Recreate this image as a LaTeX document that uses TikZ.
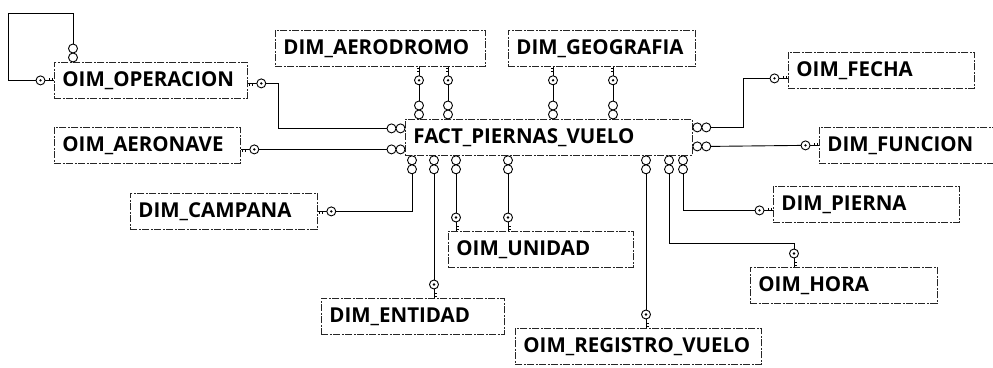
\documentclass[tikz,border=0pt]{standalone}
\usepackage{fontspec}
\setmainfont{Open Sans}
\usetikzlibrary{calc}
\begin{document}
\begin{tikzpicture}[x=1pt,y=-1pt,
  tbl/.style={draw=black!85, line width=0.8pt,
    dash pattern=on 7pt off 1.5pt on 2pt off 1.5pt,
    anchor=north west, minimum height=36pt, inner xsep=8pt, inner ysep=0pt,
    align=left, font=\fontsize{20.5}{24}\selectfont\bfseries},
  conn/.style={draw=black, line width=0.9pt},
  pkey/.pic={
    \draw[line width=0.9pt] (0,0) -- (9,0);
    \draw[line width=0.8pt] (2,0) -- (2,2.5) (5,0) -- (5,2.5);
    \draw[line width=0.9pt, fill=white] (13.5,0) circle[radius=4.5pt];
    \fill (13.5,0) circle[radius=1.3pt];
  },
  many/.pic={
    \draw[line width=0.9pt] (4.5,0) circle[radius=4.5pt] (13.5,0) circle[radius=4.5pt];
  }]
\useasboundingbox (0,0) rectangle (993,367);
\clip (0,0) rectangle (993,367);

% tables
\node[tbl, text width=177pt] (oper) at (54,62) {OIM\_OPERACION};
\node[tbl, text width=170pt] (aeronave) at (54,127) {OIM\_AERONAVE};
\node[tbl, text width=194pt] (aerodromo) at (275,30) {DIM\_AERODROMO};
\node[tbl, text width=171pt] (geografia) at (508,30) {DIM\_GEOGRAFIA};
\node[tbl, text width=271pt] (fact) at (405,119) {FACT\_PIERNAS\_VUELO};
\node[tbl, text width=170pt] (fecha) at (788,52) {OIM\_FECHA};
\node[tbl, text width=170pt] (funcion) at (819,127) {DIM\_FUNCION};
\node[tbl, text width=171pt] (campana) at (130,193) {DIM\_CAMPANA};
\node[tbl, text width=169pt] (unidad) at (448,231) {OIM\_UNIDAD};
\node[tbl, text width=167pt] (entidad) at (321,298) {DIM\_ENTIDAD};
\node[tbl, text width=230pt] (registro) at (515,328) {OIM\_REGISTRO\_VUELO};
\node[tbl, text width=170pt] (pierna) at (773,186) {DIM\_PIERNA};
\node[tbl, text width=171pt] (hora) at (750,267) {OIM\_HORA};

% OIM_OPERACION self relation
\pic[rotate=90] at (oper.north -| 73,0) {many};
\pic[rotate=180] at (oper.west) {pkey};
\draw[conn] ($(oper.north -| 73,0)+(0,-18)$) |- (8,13) |- ($(oper.west)+(-18,0)$);

% OIM_OPERACION -> FACT
\pic at ($(oper.east)+(0,3)$) {pkey};
\pic[rotate=180] at ($(fact.west)+(0,-9)$) {many};
\draw[conn] ($(oper.east)+(18,3)$) -| ($(fact.west)+(-127,-9)$) -- ($(fact.west)+(-18,-9)$);

% OIM_AERONAVE -> FACT
\pic at ($(aeronave.east)+(0,4)$) {pkey};
\pic[rotate=180] at ($(fact.west)+(0,12)$) {many};
\draw[conn] ($(aeronave.east)+(18,4)$) -- ($(fact.west)+(-18,12)$);

% DIM_AERODROMO / DIM_GEOGRAFIA -> FACT
\foreach \t/\xx in {aerodromo/419, aerodromo/448, geografia/553, geografia/613}{
  \pic[rotate=-90] at (\t.south -| \xx,0) {pkey};
  \pic[rotate=90] at (fact.north -| \xx,0) {many};
  \draw[conn] ($(\t.south -| \xx,0)+(0,18)$) -- ($(fact.north -| \xx,0)+(0,-18)$);
}

% OIM_FECHA
\pic at ($(fact.east)+(0,-10)$) {many};
\pic[rotate=180] at ($(fecha.west)+(0,8)$) {pkey};
\draw[conn] ($(fact.east)+(18,-10)$) -| ($(fecha.west)+(-45,8)$) -- ($(fecha.west)+(-18,8)$);

% DIM_FUNCION
\pic at ($(fact.east)+(0,9)$) {many};
\pic[rotate=180] at (funcion.west) {pkey};
\draw[conn] ($(fact.east)+(18,9)$) -- ($(funcion.west)+(-18,0)$);

% bottom many-ends
\foreach \xx in {412,434,456,508,646,669,683}{
  \pic[rotate=-90] at (fact.south -| \xx,0) {many};
}

% DIM_CAMPANA
\pic at (campana.east) {pkey};
\draw[conn] ($(fact.south -| 412,0)+(0,18)$) |- ($(campana.east)+(18,0)$);

% DIM_ENTIDAD
\pic[rotate=90] at (entidad.north -| 434,0) {pkey};
\draw[conn] ($(fact.south -| 434,0)+(0,18)$) -- ($(entidad.north -| 434,0)+(0,-18)$);

% OIM_UNIDAD
\foreach \xx in {456,508}{
  \pic[rotate=90] at (unidad.north -| \xx,0) {pkey};
  \draw[conn] ($(fact.south -| \xx,0)+(0,18)$) -- ($(unidad.north -| \xx,0)+(0,-18)$);
}

% OIM_REGISTRO_VUELO
\pic[rotate=90] at (registro.north -| 646,0) {pkey};
\draw[conn] ($(fact.south -| 646,0)+(0,18)$) -- ($(registro.north -| 646,0)+(0,-18)$);

% OIM_HORA
\pic[rotate=90] at (hora.north -| 794,0) {pkey};
\draw[conn] ($(fact.south -| 669,0)+(0,18)$) |- ($(hora.north -| 794,0)+(0,-24)$) -- ($(hora.north -| 794,0)+(0,-18)$);

% DIM_PIERNA
\pic[rotate=180] at ($(pierna.west)+(0,6)$) {pkey};
\draw[conn] ($(fact.south -| 683,0)+(0,18)$) |- ($(pierna.west)+(-18,6)$);
\end{tikzpicture}
\end{document}
